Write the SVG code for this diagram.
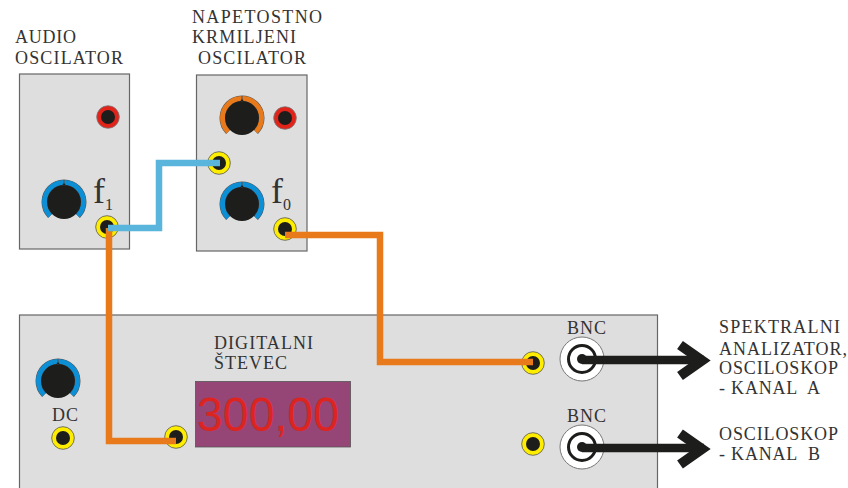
<svg xmlns="http://www.w3.org/2000/svg" width="848" height="488" viewBox="0 0 848 488">
<style>
.panel{fill:#dedede;stroke:#666;stroke-width:1.2}
.t{font-family:"Liberation Serif","Times New Roman",serif;font-size:18px;fill:#333}
.wire{fill:none;stroke-width:6.5;stroke-linejoin:miter}
.or{stroke:#e87a1b}.bl{stroke:#5ab5dc}
.arrow{fill:none;stroke:#1d1d1b}
</style>
<defs>
<g id="jackY"><circle r="11.3" fill="#ffed00" stroke="#555" stroke-width=".8"/><circle r="7" fill="#1d1d1b"/></g>
<g id="jackR"><circle r="11.3" fill="#e2231a" stroke="#777" stroke-width=".8"/><circle r="7" fill="#1d1d1b"/></g>
<g id="knobB"><path d="M-13.8 13.8A19.5 19.5 0 1 1 13.8 13.8" fill="none" stroke="#555" stroke-width="6"/><path d="M-13.8 13.8A19.5 19.5 0 1 1 13.8 13.8" fill="none" stroke="#0d8fd6" stroke-width="5"/><circle r="17" fill="#1d1d1b"/><path d="M-.6-16V-22H.6V-16Z" fill="#555"/><path d="M-2-16.500L0-19L2-16.500Z" fill="#1d1d1b"/></g>
<g id="knobO"><path d="M-13.8 13.8A19.5 19.5 0 1 1 13.8 13.8" fill="none" stroke="#555" stroke-width="6"/><path d="M-13.8 13.8A19.5 19.5 0 1 1 13.8 13.8" fill="none" stroke="#e87a1b" stroke-width="5"/><circle r="17" fill="#1d1d1b"/><path d="M-.6-16V-22H.6V-16Z" fill="#555"/><path d="M-2-16.500L0-19L2-16.500Z" fill="#1d1d1b"/></g>
<g id="bnc"><circle r="22" fill="#fff" stroke="#777" stroke-width="1"/><circle r="13.5" fill="#fff" stroke="#1d1d1b" stroke-width="3"/><circle r="5" fill="#1d1d1b"/></g>
</defs>

<g id="audio-oscilator">
<rect class="panel" x="19.5" y="74" width="110" height="175"/>
<use href="#jackR" x="108" y="117"/>
<use href="#knobB" x="64" y="202"/>
<use href="#jackY" x="107" y="227"/>
<text class="t" x="15" y="43" textLength="61" lengthAdjust="spacing">AUDIO</text>
<text class="t" x="15" y="64" textLength="108" lengthAdjust="spacing">OSCILATOR</text>
<text x="93" y="203" font-family="Liberation Serif,serif" font-size="36" fill="#333">f</text>
<text x="105" y="210" font-family="Liberation Serif,serif" font-size="16" fill="#333">1</text>
</g>

<g id="vco">
<rect class="panel" x="196.5" y="75" width="110.500" height="176"/>
<use href="#knobO" x="242" y="118"/>
<use href="#jackR" x="285" y="118"/>
<use href="#jackY" x="219" y="163"/>
<use href="#knobB" x="242" y="204"/>
<use href="#jackY" x="285" y="229"/>
<text class="t" x="192" y="23" textLength="130" lengthAdjust="spacing">NAPETOSTNO</text>
<text class="t" x="192" y="43" textLength="104" lengthAdjust="spacing">KRMILJENI</text>
<text class="t" x="198" y="64" textLength="108" lengthAdjust="spacing">OSCILATOR</text>
<text x="271" y="203" font-family="Liberation Serif,serif" font-size="36" fill="#333">f</text>
<text x="283" y="210" font-family="Liberation Serif,serif" font-size="16" fill="#333">0</text>
</g>

<g id="counter-panel">
<rect class="panel" x="19.5" y="315" width="638" height="180"/>
<use href="#knobB" x="58" y="381"/>
<text class="t" x="52" y="421" textLength="26" lengthAdjust="spacing">DC</text>
<use href="#jackY" x="63" y="438"/>
<use href="#jackY" x="176" y="437"/>
<text class="t" x="214" y="349" textLength="99" lengthAdjust="spacing">DIGITALNI</text>
<text class="t" x="214" y="369" textLength="73" lengthAdjust="spacing">ŠTEVEC</text>
<rect x="195.500" y="381.500" width="155" height="65.500" fill="#964577" stroke="#555" stroke-width=".8"/>
<text x="197" y="431" font-family="Liberation Sans,Arial,sans-serif" font-size="49" fill="#dc2420" textLength="142" lengthAdjust="spacingAndGlyphs">300,00</text>
<use href="#jackY" x="533" y="363"/>
<use href="#jackY" x="533" y="444"/>
<use href="#bnc" x="582" y="359"/>
<use href="#bnc" x="582" y="447"/>
<text class="t" x="567" y="334" textLength="39" lengthAdjust="spacing">BNC</text>
<text class="t" x="567" y="422" textLength="39" lengthAdjust="spacing">BNC</text>
</g>

<g id="output-a">
<text class="t" x="719" y="333" textLength="121" lengthAdjust="spacing">SPEKTRALNI</text>
<text class="t" x="719" y="355" textLength="128" lengthAdjust="spacing">ANALIZATOR,</text>
<text class="t" x="719" y="374" textLength="119" lengthAdjust="spacing">OSCILOSKOP</text>
<text class="t" x="719" y="394" textLength="101" lengthAdjust="spacing" xml:space="preserve">- KANAL  A</text>
</g>
<g id="output-b">
<text class="t" x="719" y="440" textLength="119" lengthAdjust="spacing">OSCILOSKOP</text>
<text class="t" x="719" y="460" textLength="101" lengthAdjust="spacing" xml:space="preserve">- KANAL  B</text>
</g>

<g id="connectors">
<path class="wire or" d="M109 228V441H176"/>
<path class="wire bl" d="M108 228H159V163H220"/>
<path class="wire or" d="M285 235H380V362H533"/>
<path class="arrow" stroke-width="8.500" d="M582 360H704"/>
<path class="arrow" stroke-width="10" d="M680 345L702 360.500L680 376"/>
<path class="arrow" stroke-width="8.500" d="M582 448H704"/>
<path class="arrow" stroke-width="10" d="M680 433.500L702 449L680 464.500"/>
</g>
</svg>
